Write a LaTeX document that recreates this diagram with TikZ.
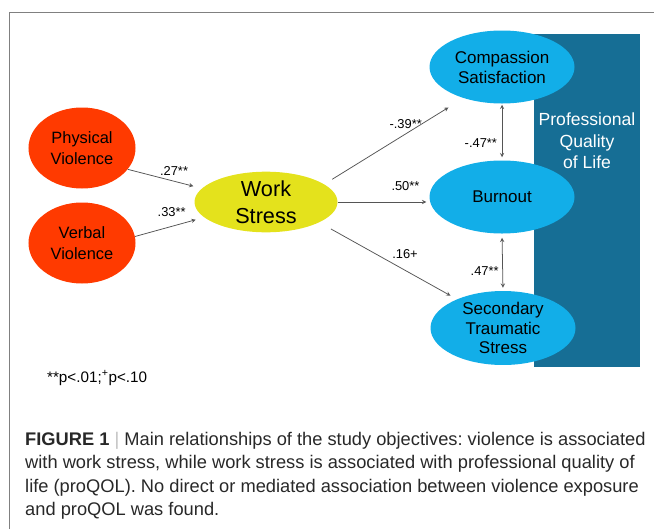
\documentclass[tikz,border=0pt]{standalone}
\usepackage{fontspec}
\setmainfont{Liberation Sans}
\usepackage{xcolor}
\usetikzlibrary{arrows,calc,positioning,shapes.geometric}
\definecolor{violred}{RGB}{255,58,0}
\definecolor{stressyellow}{RGB}{228,226,28}
\definecolor{qolcyan}{RGB}{18,174,232}
\definecolor{qolteal}{RGB}{22,110,149}
\definecolor{linkgray}{RGB}{85,85,85}
\definecolor{capgray}{RGB}{40,40,40}
\frenchspacing
\tikzset{%
	violence/.style = {ellipse, fill=violred, minimum width=3.21cm, minimum height=2.43cm, inner sep=0pt, align=center, font=\fontsize{14}{18}\selectfont}, % Exposure
	stress/.style   = {ellipse, fill=stressyellow, minimum width=4.29cm, minimum height=1.74cm, inner sep=0pt, align=center, font=\fontsize{18.5}{23}\selectfont}, % Mediator
	qol/.style      = {ellipse, fill=qolcyan, minimum width=4.35cm, minimum height=2.19cm, inner sep=0pt, align=center, font=\fontsize{14.5}{17}\selectfont}, % Outcome
	coef/.style     = {inner sep=0pt, font=\fontsize{11}{12}\selectfont}, % Path coefficient
	link/.style     = {draw=linkgray, line width=0.65pt, ->, >=stealth},
	corr/.style     = {draw=linkgray, line width=0.65pt, <->, >=stealth},
}

\begin{document}
	\begin{tikzpicture}[x=0.03cm, y=-0.03cm]
		\useasboundingbox (0,0) rectangle (654,529);
		\draw[gray, line width=0.8pt] (9,529) -- (9,12) -- (654,12);
		% ProQOL band
		\fill[qolteal] (534,34) rectangle (640,367);
		\node[white, align=center, font=\fontsize{15}{18.3}\selectfont] (band) at (587,141) {Professional\\Quality\\of Life};
		
		\node[violence] (phys) at (82,148) {Physical\\Violence};
		\node[violence] (verb) at (82,243) {Verbal\\Violence};
		\node[stress] (work) at (266,202) {Work\\Stress};
		\node[qol] (comp) at (502,67) {Compassion\\Satisfaction};
		\node[qol] (burn) at (502,197) {Burnout};
		\node[qol] (sts) at (503,328) {Secondary\\Traumatic\\Stress};
		
		\draw[link, shorten >=0.26cm] (phys.-25) -- node[coef, pos=0.625, above=0.16cm] (c27) {.27**} (work.168);
		\draw[link, shorten >=0.26cm] (verb.7) -- node[coef, pos=0.53, above=0.28cm] (c33) {.33**} (work.194);
		\draw[link, shorten <=0.28cm, shorten >=0.53cm] (work.17) -- node[coef, pos=0.585, above=0.14cm] (c39) {-.39**} (comp.219.5);
		\draw[link, shorten >=0.09cm] (work.east) -- node[coef, pos=0.74, above=0.32cm] (c50) {.50**} (work.east -| burn.west);
		\draw[link, shorten <=0.4cm, shorten >=0.22cm] (work.-21) -- node[coef, pos=0.623, above=0.35cm] (c16) {.16+} (sts.148);
		\draw[corr, shorten <=0.03cm, shorten >=0.09cm] (comp.south) -- node[coef, pos=0.69, left=0.14cm] (c47a) {-.47**} (burn.north);
		\draw[corr, shorten <=0.12cm, shorten >=0.09cm] (burn.south) -- node[coef, pos=0.66, left=0.11cm] (c47b) {.47**} (sts.north);
		
		\node[anchor=west, font=\fontsize{13}{15}\selectfont] (sig) at (43,378) {**p<.01;\textsuperscript{+}p<.10};
		\node[anchor=north west, inner sep=0pt, align=left, text=capgray, font=\fontsize{15.6}{20}\selectfont] (caption) at (25,432) {\textbf{FIGURE 1} {\color{lightgray}|} Main relationships of the study objectives: violence is associated\\with work stress, while work stress is associated with professional quality of\\life (proQOL). No direct or mediated association between violence exposure\\and proQOL was found.};
	\end{tikzpicture}
\end{document}
